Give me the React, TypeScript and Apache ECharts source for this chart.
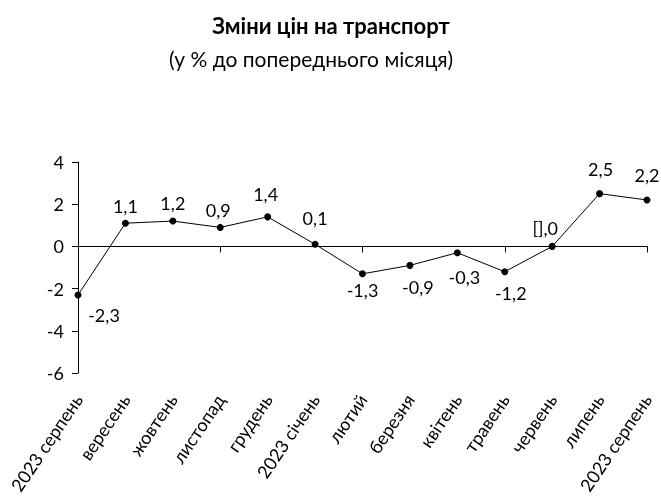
import React, { useEffect, useRef } from "react";
import * as echarts from "echarts";

const categories = [
  "2023 серпень", "вересень", "жовтень", "листопад", "грудень", "2023 січень",
  "лютий", "березня", "квітень", "травень", "червень", "липень", "2023 серпень",
];
const values = [-2.3, 1.1, 1.2, 0.9, 1.4, 0.1, -1.3, -0.9, -0.3, -1.2, 0.0, 2.5, 2.2];
const labelTexts = ["-2,3", "1,1", "1,2", "0,9", "1,4", "0,1", "-1,3", "-0,9", "-0,3", "-1,2", "[],0", "2,5", "2,2"];
const yMin = -6;
const yMax = 4;
const yInterval = 2;

// label placement (styling): offset of each label's centre from its point, px
const labelOffsets: [number, number][] = [
  [26, 20], [0, -17], [0, -18], [-2, -17], [-2, -23], [0, -26], [0, 16],
  [8, 22], [7, 24], [6, 21], [-7, -18], [1, -25], [0, -25],
];

const FONT = "Lato, 'Open Sans', sans-serif";

export default function App() {
  const ref = useRef<HTMLDivElement>(null);
  useEffect(() => {
    const chart = echarts.init(ref.current!, null, { renderer: "svg" });
    chart.setOption({
      animation: false,
      title: [
        {
          text: "Зміни цін на транспорт",
          left: 326,
          top: 9,
          textAlign: "center",
          textStyle: { fontFamily: FONT, fontSize: 22, fontWeight: "bold", color: "#000" },
        },
        {
          text: "(у % до попереднього місяця)",
          left: 306,
          top: 43,
          textAlign: "center",
          textStyle: { fontFamily: FONT, fontSize: 21, fontWeight: "normal", color: "#000" },
        },
      ],
      grid: { left: 78, right: 14, top: 162, bottom: 126, containLabel: false },
      xAxis: [
        {
          type: "category",
          data: categories,
          boundaryGap: false,
          axisLine: { onZero: true, lineStyle: { color: "#000", width: 1 } },
          axisTick: { show: true, alignWithLabel: true, length: 6, lineStyle: { color: "#000" } },
          axisLabel: { show: false },
          splitLine: { show: false },
        },
        {
          type: "category",
          data: categories,
          boundaryGap: false,
          position: "bottom",
          axisLine: { show: false, onZero: false },
          axisTick: { show: false },
          axisLabel: {
            show: true,
            interval: 0,
            rotate: 56,
            margin: 23,
            color: "#000",
            fontFamily: FONT,
            fontSize: 18,
          },
          splitLine: { show: false },
        },
      ],
      yAxis: {
        type: "value",
        min: yMin,
        max: yMax,
        interval: yInterval,
        axisLine: { show: true, lineStyle: { color: "#000" } },
        axisTick: { show: true, length: 6, lineStyle: { color: "#000" } },
        axisLabel: { color: "#000", fontFamily: FONT, fontSize: 18, margin: 14 },
        splitLine: { show: false },
      },
      series: [
        {
          type: "line",
          xAxisIndex: 0,
          data: values.map((v, i) => ({
            value: v,
            label: { show: true, position: "inside", offset: labelOffsets[i] },
          })),
          symbol: "circle",
          symbolSize: 7,
          lineStyle: { color: "#000", width: 1 },
          itemStyle: { color: "#000" },
          label: {
            show: true,
            color: "#000",
            fontFamily: FONT,
            fontSize: 18,
            formatter: (p: any) => labelTexts[p.dataIndex],
          },
        },
      ],
    });
    return () => chart.dispose();
  }, []);
  return (
    <div
      ref={ref}
      style={{ position: "fixed", left: 0, top: 0, width: 661, height: 499 }}
    />
  );
}
